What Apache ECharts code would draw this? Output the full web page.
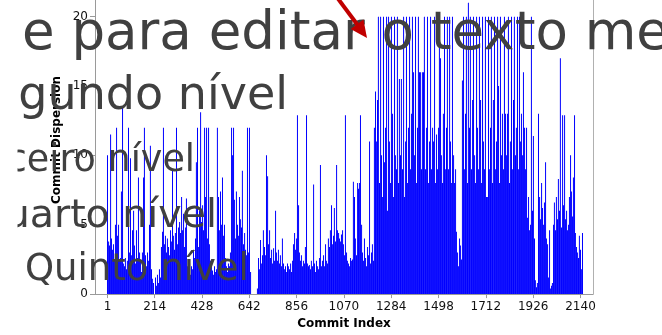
<!DOCTYPE html>
<html><head><meta charset="utf-8">
<script src="https://cdn.jsdelivr.net/npm/echarts@6/dist/echarts.min.js"></script>
<style>html,body{margin:0;padding:0;background:#fff}#c{width:662px;height:335px}</style>
</head><body><div id="c"></div>
<script>
// Axis tick labels
const xTickLabels = [1, 214, 428, 642, 856, 1070, 1284, 1498, 1712, 1926, 2140];
const yTickLabels = [0, 5, 10, 15, 20];
// Sampling of commit index per plotted column (first commit, step between samples)
const firstCommit = 1;
const commitStep = 4.522;
// Commit dispersion, estimated for successive commit samples
const dispersion = [
  10, 3.8, 3.5, 11.5, 4, 3.2, 3.6, 2.5, 5, 12,
  4.2, 5, 2.4, 2.6, 7.4, 13.5, 2.2, 2, 2.6, 1.8,
  2.4, 12, 3, 9.8, 2.8, 4.6, 6, 3.5, 2.2, 4.6,
  2.6, 8.4, 3, 2.4, 1.6, 3, 8.4, 12, 2.8, 2,
  3, 2.4, 5, 10.7, 1.8, 1.1, 0.8, 0, 1.2, 0.6,
  1.4, 0.8, 1.8, 1.2, 3.4, 4.5, 12, 3.6, 4.2, 3,
  4, 3.4, 2.8, 4.6, 3.8, 9, 4.2, 3.2, 4.4, 12,
  3.6, 4.8, 5.2, 4.4, 7, 4.6, 5.8, 3.4, 4.8, 6.9,
  2, 1.6, 2.2, 1.4, 2, 1.8, 3.2, 2.6, 4, 9.5,
  12, 3.4, 6, 13.1, 5.2, 6.4, 4.6, 12, 7, 12,
  4, 12, 3.6, 2.4, 2, 1.7, 1.4, 2, 1.6, 1.8,
  12, 7, 4.6, 7.4, 5, 8.4, 4.2, 5, 2.6, 2,
  1.6, 2.2, 2, 3, 12, 10, 12, 6.8, 4, 7.4,
  5, 4.2, 7, 5.4, 4.8, 8.9, 3.6, 4.4, 3.2, 2.8,
  12, 3, 12, 1.6, 0, 0, 0, 0, 0, 0,
  0.4, 2.6, 1.8, 3.9, 2.2, 2.8, 4.6, 3.4, 2.8, 10,
  8.5, 3.6, 4.6, 2.6, 3.2, 2.2, 3.3, 2.4, 6, 3,
  2.4, 3.2, 2.2, 2.8, 2, 4, 2.2, 1.8, 2, 1.6,
  2.2, 2, 1.8, 2.2, 1.6, 2.4, 3.6, 4.4, 3.2, 4,
  12.9, 6.4, 3, 2.4, 2.8, 2, 2.4, 2.2, 3.4, 12.9,
  2.2, 2, 2.1, 1.8, 2.4, 2, 7.9, 2.2, 1.6, 2.4,
  2, 1.8, 2.6, 9.3, 2, 2.4, 2.8, 2, 3.6, 2.4,
  2.2, 4, 3.4, 4.6, 6.4, 3.6, 4.2, 6.2, 3.8, 9.3,
  4.6, 4.4, 4, 3.8, 4.3, 4.6, 3.6, 2.8, 12.9, 3,
  2.4, 2.2, 2, 2.6, 2.4, 2.5, 8.1, 7, 4, 2.8,
  8, 7.6, 8, 12.9, 5, 3, 2.4, 4, 2.6, 2,
  3.4, 2.8, 11, 2.2, 3, 3.6, 2.4, 12, 14.6, 11,
  14, 20, 8, 20, 10, 7, 20, 9.5, 12, 20,
  6, 20, 11, 8, 20, 13, 7, 20, 10, 9,
  20, 8, 15.5, 10, 15.5, 9, 20, 7, 11, 20,
  8, 12, 20, 9, 13, 20, 16, 10, 20, 8,
  12, 20, 16, 16, 9, 16, 16, 20, 9, 12,
  20, 8, 11, 20, 9, 12, 11, 20, 8, 11.5,
  9, 12, 20, 17, 10, 8, 13, 20, 9, 12,
  20, 9, 20, 11, 8, 20, 10, 8, 9, 4.5,
  3, 2, 4, 3.5, 2.5, 15.4, 20, 9, 13, 20,
  8, 21, 12, 20, 9, 14, 20, 10, 8, 20,
  12, 9, 20, 14, 8, 20, 11, 9, 20, 7,
  7, 20, 9, 12, 20, 8, 14, 20, 9, 11,
  20, 15, 8, 20, 10, 13, 9, 20, 13, 10,
  13, 20, 8, 11, 20, 9, 14, 20, 10, 12,
  20, 9, 20, 11, 13, 10, 16, 12, 9, 12,
  5.5, 7, 4.6, 5, 20, 6, 11.4, 4, 1, 0.5,
  0.8, 13, 7, 5.4, 8, 6.2, 5, 6.6, 9.5, 4,
  3.6, 1.2, 4.6, 0.4, 0.6, 0.8, 5, 6.6, 4.6, 7,
  5.4, 8.3, 6, 17, 4.8, 12.9, 6.4, 12.9, 5.4, 6,
  4.6, 5, 7, 10, 7.4, 5.6, 8.4, 12.9, 4.4, 3.4,
  3, 2.6, 4.2, 3.2, 1.8, 4.4
];
// Slide master placeholder text overlaid on the chart
const slideLines = ['Clique para editar o texto mestre', 'Segundo nível', 'Terceiro nível', 'Quarto nível', 'Quinto nível'];
const xAxisTitle = 'Commit Index';
const yAxisTitle = 'Commit Dispersion';

const seriesData = dispersion.map((v, i) => [Math.round(firstCommit + i * commitStep), v]);

const FONT = '"DejaVu Sans", Verdana, sans-serif';
const ctx = document.createElement('canvas').getContext('2d');
function tw(str, size) { ctx.font = size + 'px ' + FONT; return ctx.measureText(str).width; }

const chart = echarts.init(document.getElementById('c'), null, {renderer: 'canvas'});
const axisGray = '#9a9a9a';
const slideColor = '#404040';

const option = {
  animation: false,
  backgroundColor: '#ffffff',
  grid: {left: 95, right: 69, top: 0, bottom: 38, containLabel: false},
  xAxis: {
    type: 'value', min: -55.5, max: 2196.5,
    name: xAxisTitle, nameLocation: 'middle', nameGap: 23,
    nameTextStyle: {fontFamily: FONT, fontWeight: 'bold', fontSize: 12, color: '#000'},
    axisLine: {show: true, onZero: false, lineStyle: {color: axisGray, width: 1}},
    axisTick: {show: true, length: 4, customValues: xTickLabels, lineStyle: {color: axisGray}},
    axisLabel: {customValues: xTickLabels, margin: 7, fontFamily: FONT, fontSize: 12, color: '#111',
      formatter: v => String(v)},
    splitLine: {show: false}
  },
  yAxis: [{
    type: 'value', min: 0, max: 21.2,
    axisLine: {show: true, onZero: false, lineStyle: {color: axisGray, width: 1}},
    axisTick: {show: true, length: 5, customValues: yTickLabels, lineStyle: {color: axisGray}},
    axisLabel: {customValues: yTickLabels, margin: 7, fontFamily: FONT, fontSize: 12, color: '#111',
      formatter: v => String(v)},
    splitLine: {show: false}
  }, {
    type: 'value', min: 0, max: 21.2, position: 'right',
    axisLine: {show: true, onZero: false, lineStyle: {color: '#b0b0b0', width: 1}},
    axisTick: {show: false}, axisLabel: {show: false}, splitLine: {show: false}
  }],
  series: [{
    type: 'bar', yAxisIndex: 0,
    data: seriesData,
    barWidth: 1,
    itemStyle: {color: '#0000ff'},
    emphasis: {disabled: true},
    z: 2
  }],
  graphic: []
};

// y-axis title
option.graphic.push({
  type: 'text', x: 57, y: 140, rotation: Math.PI / 2, z: 50,
  style: {text: yAxisTitle, fontFamily: FONT, fontWeight: 'bold', fontSize: 12, fill: '#000', align: 'center', verticalAlign: 'middle'}
});

// Overlaid slide text (placeholder box clipped at the left edge of the slide)
const sizes = [53, 46, 36.5, 39.5, 37];
const baselines = [54, 114, 175, 231, 284];
const lineX = [22 - tw('Cliqu', 53), 288, 195, 217, 25];
const aligns = ['left', 'right', 'right', 'right', 'left'];
slideLines.forEach((t, i) => {
  option.graphic.push({
    type: 'text', x: lineX[i], y: baselines[i] - sizes[i] * 0.36, z: 100,
    style: {text: t, fontFamily: FONT, fontSize: sizes[i], fill: slideColor, align: aligns[i], verticalAlign: 'middle'}
  });
});
option.graphic.push({
  type: 'rect', z: 105, shape: {x: -2, y: 0, width: 19.5, height: 300},
  style: {fill: '#ffffff'}
});
option.graphic.push({
  type: 'rect', z: 105, shape: {x: -2, y: 0, width: 24, height: 64},
  style: {fill: '#ffffff'}
});

// Red arrow
option.graphic.push({
  type: 'line', z: 110,
  shape: {x1: 336, y1: -4, x2: 358, y2: 25.5},
  style: {stroke: '#c00000', lineWidth: 4}
});
option.graphic.push({
  type: 'polygon', z: 110,
  shape: {points: [[367, 38], [350.6, 29], [363.4, 19.6]]},
  style: {fill: '#c00000'}
});

chart.setOption(option);
</script>
</body></html>
